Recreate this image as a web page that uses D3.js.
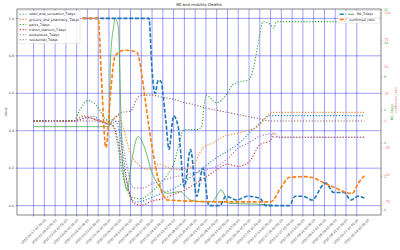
<!DOCTYPE html>
<meta charset="utf-8">
<script src="https://d3js.org/d3.v7.min.js"></script>
<style>
    body{ margin:0; background:#fff; }
    text{ font-family:"DejaVu Sans"; }
</style>
<body>
<script>
var title = "R0 and mobility Deaths";

// mobility, % change from baseline (right axis, red)
var retail = [["2020-02-17",0],["2020-03-14",0],["2020-03-20",4],["2020-03-27",4],["2020-04-02",-1],["2020-04-06",-3],["2020-04-09",1],["2020-04-12",-5],["2020-04-15",-30],["2020-04-19",-65],["2020-04-23",-75],["2020-04-28",-74],["2020-05-05",-70],["2020-05-12",-66],["2020-05-19",-62],["2020-05-26",-55],["2020-06-02",-48],["2020-06-09",-40],["2020-06-16",-33],["2020-06-23",-27],["2020-06-30",-20],["2020-07-07",-10],["2020-07-13",-2],["2020-07-20",5],["2020-09-19",5]];
var grocery = [["2020-02-17",0],["2020-03-14",0],["2020-03-20",5],["2020-03-27",2],["2020-04-06",-2],["2020-04-12",5],["2020-04-15",-5],["2020-04-20",-30],["2020-04-25",-40],["2020-05-02",-45],["2020-05-09",-40],["2020-05-16",-44],["2020-05-23",-45],["2020-05-30",-42],["2020-06-06",-25],["2020-06-13",-20],["2020-06-20",-14],["2020-06-27",-12],["2020-07-04",-9],["2020-07-11",-6],["2020-07-18",5],["2020-07-21",8],["2020-09-19",8]];
var parks = [["2020-02-17",0],["2020-03-14",0],["2020-03-18",10],["2020-03-23",19],["2020-03-27",17],["2020-03-31",10],["2020-04-03",3],["2020-04-06",0],["2020-04-10",-10],["2020-04-15",-50],["2020-04-20",-70],["2020-04-27",-72],["2020-05-04",-65],["2020-05-11",-55],["2020-05-18",-40],["2020-05-25",-8],["2020-06-01",-8],["2020-06-05",-6],["2020-06-08",24],["2020-06-15",17],["2020-06-22",26],["2020-06-25",33],["2020-06-29",36],["2020-07-06",38],["2020-07-09",50],["2020-07-13",80],["2020-07-15",92],["2020-07-20",89],["2020-07-22",86],["2020-07-24",92],["2020-07-27",92],["2020-09-19",92]];
var transit = [["2020-02-17",0],["2020-03-14",0],["2020-03-23",3],["2020-04-02",-1],["2020-04-09",-5],["2020-04-15",-40],["2020-04-22",-76],["2020-04-27",-78],["2020-05-04",-74],["2020-05-11",-72],["2020-05-18",-68],["2020-05-25",-64],["2020-06-01",-58],["2020-06-08",-52],["2020-06-15",-45],["2020-06-22",-40],["2020-06-29",-42],["2020-07-06",-38],["2020-07-13",-22],["2020-07-20",-18],["2020-07-22",-11],["2020-07-25",-15],["2020-09-19",-15]];
var workplaces = [["2020-02-17",0],["2020-03-14",0],["2020-03-23",3],["2020-04-06",-3],["2020-04-12",0],["2020-04-16",-30],["2020-04-22",-62],["2020-04-28",-62],["2020-05-04",-58],["2020-05-11",-55],["2020-05-18",-52],["2020-05-25",-50],["2020-06-01",-48],["2020-06-08",-45],["2020-06-15",-42],["2020-06-22",-35],["2020-06-29",-25],["2020-07-06",-20],["2020-07-13",-14],["2020-07-20",-12],["2020-07-22",-15],["2020-09-19",-15]];
var residential = [["2020-02-17",0],["2020-04-06",0],["2020-04-10",3],["2020-04-14",8],["2020-04-20",9],["2020-04-24",20],["2020-04-28",24],["2020-05-04",24],["2020-05-11",22],["2020-05-18",20],["2020-05-25",17],["2020-06-01",15],["2020-06-08",12],["2020-06-15",10],["2020-06-22",8],["2020-06-29",6],["2020-07-06",4],["2020-07-13",2],["2020-07-20",0],["2020-09-19",0]];

// normalised series (left axis)
var r0Norm = [["2020-03-20",1],["2020-05-02",1],["2020-05-04",0.72],["2020-05-06",0.6],["2020-05-08",0.67],["2020-05-10",0.66],["2020-05-11",0.6],["2020-05-13",0.45],["2020-05-15",0.3],["2020-05-18",0.48],["2020-05-21",0.42],["2020-05-25",0.1],["2020-05-29",0.3],["2020-06-02",0.05],["2020-06-06",0.2],["2020-06-10",0.0],["2020-06-17",0.0],["2020-06-21",0.05],["2020-06-28",0.03],["2020-07-05",0.05],["2020-07-13",0.04],["2020-07-17",0.0],["2020-08-01",0.0],["2020-08-05",0.05],["2020-08-10",0.05],["2020-08-16",0.03],["2020-08-23",0.11],["2020-08-25",0.12],["2020-08-30",0.07],["2020-09-06",0.07],["2020-09-10",0.03],["2020-09-15",0.05],["2020-09-19",0.04]];
var confirmedNorm = [["2020-03-20",1],["2020-03-30",1],["2020-04-01",0.7],["2020-04-04",0.31],["2020-04-07",0.6],["2020-04-10",0.8],["2020-04-16",0.83],["2020-04-24",0.82],["2020-04-27",0.72],["2020-04-29",0.6],["2020-05-02",0.42],["2020-05-06",0.22],["2020-05-10",0.08],["2020-05-14",0.03],["2020-06-20",0.02],["2020-07-20",0.02],["2020-07-27",0.1],["2020-08-01",0.15],["2020-08-10",0.155],["2020-08-16",0.15],["2020-08-24",0.12],["2020-08-31",0.095],["2020-09-07",0.07],["2020-09-11",0.065],["2020-09-15",0.12],["2020-09-19",0.16]];

// R0 (right axis, green)
var r0 = [["2020-02-17",5],["2020-04-06",5],["2020-04-07",9],["2020-04-09",11],["2020-04-10",11.5],["2020-04-12",11],["2020-04-14",5],["2020-04-15",2.5],["2020-04-18",1.2],["2020-04-20",2.5],["2020-04-25",4.4],["2020-04-30",3.5],["2020-05-03",2.5],["2020-05-08",1.5],["2020-05-14",1.0],["2020-05-22",1.1],["2020-05-29",0.6],["2020-06-05",0.5],["2020-06-12",0.5],["2020-06-18",1.2],["2020-06-23",0.4],["2020-07-10",0.35],["2020-07-21",0.3]];

var leftTicks = [0, 0.2, 0.4, 0.6, 0.8, 1.0];
var redTicks = [-75, -50, -25, 0, 25, 50, 75, 100];
var greenTicks = [0, 2, 4, 6, 8, 10, 12];

var mobility = [
  {name:"retail_and_recreation_7days", color:"#1f77b4", data:retail},
  {name:"grocery_and_pharmacy_7days", color:"#ff7f0e", data:grocery},
  {name:"parks_7days", color:"#2ca02c", data:parks},
  {name:"transit_stations_7days", color:"#d62728", data:transit},
  {name:"workplaces_7days", color:"#9467bd", data:workplaces},
  {name:"residential_7days", color:"#8c564b", data:residential}
];

var margin = {top: 9, right: 19, bottom: 35, left: 17},
    width = 400 - margin.left - margin.right,
    height = 250 - margin.top - margin.bottom;

var parse = d3.timeParse("%Y-%m-%d");
var fmt = d3.timeFormat("%Y-%m-%d %H:%M:%S");

var svg = d3.select("body").append("svg")
    .attr("width", 400)
    .attr("height", 250)
    .append("g")
    .attr("transform", "translate(" + margin.left + "," + margin.top + ")");

var t0 = parse("2020-02-17"), t1 = parse("2020-09-19");
var pad = (t1 - t0) * 0.05;
var x = d3.scaleTime().domain([new Date(+t0 - pad), new Date(+t1 + pad)]).range([0, width]);
var y = d3.scaleLinear().domain([-0.05, 1.05]).range([height, 0]);
var yRed = d3.scaleLinear().domain([-87, 103.7]).range([height, 0]);
var yGreen = d3.scaleLinear().domain([-0.3, 12.06]).range([height, 0]);

var weeks = d3.timeMonday.range(t0, parse("2020-09-15"));

// grid
svg.selectAll(".vgrid").data(weeks).enter().append("line")
    .attr("x1", function(d) { return x(d); }).attr("x2", function(d) { return x(d); })
    .attr("y1", 0).attr("y2", height)
    .style("stroke", "blue").style("stroke-opacity", 0.55).style("stroke-width", 0.7);
svg.selectAll(".hgrid").data(leftTicks).enter().append("line")
    .attr("x1", 0).attr("x2", width)
    .attr("y1", function(d) { return y(d); }).attr("y2", function(d) { return y(d); })
    .style("stroke", "blue").style("stroke-opacity", 0.55).style("stroke-width", 0.7);

function line(scale) {
  return d3.line()
    .x(function(d) { return x(parse(d[0])); })
    .y(function(d) { return scale(d[1]); })
    .curve(d3.curveMonotoneX);
}

// mobility lines
mobility.forEach(function(s) {
  svg.append("path").datum(s.data)
    .attr("d", line(yRed))
    .style("fill", "none").style("stroke", s.color)
    .style("stroke-width", 1.1).style("stroke-dasharray", "1.1,1.8");
});

svg.append("path").datum(r0)
    .attr("d", line(yGreen))
    .style("fill", "none").style("stroke", "#2ca02c").style("stroke-width", 0.7);

svg.append("path").datum(r0Norm)
    .attr("d", line(y))
    .style("fill", "none").style("stroke", "#1f77b4")
    .style("stroke-width", 1.6).style("stroke-dasharray", "4,1.8");
svg.append("path").datum(confirmedNorm)
    .attr("d", line(y))
    .style("fill", "none").style("stroke", "#ff7f0e")
    .style("stroke-width", 1.6).style("stroke-dasharray", "4,1.8");

// frame
svg.append("rect").attr("width", width).attr("height", height)
    .style("fill", "none").style("stroke", "#333").style("stroke-width", 0.6);

// left axis
svg.selectAll(".lt").data(leftTicks).enter().append("text")
    .attr("x", -3).attr("y", function(d) { return y(d); })
    .attr("dy", "0.35em").attr("text-anchor", "end")
    .attr("font-size", "3.3px").style("fill", "#333")
    .text(function(d) { return d.toFixed(1); });
svg.selectAll(".ltk").data(leftTicks).enter().append("line")
    .attr("x1", -1.5).attr("x2", 0)
    .attr("y1", function(d) { return y(d); }).attr("y2", function(d) { return y(d); })
    .style("stroke", "#333").style("stroke-width", 0.4);
svg.append("text")
    .attr("transform", "translate(-10," + (height / 2) + ") rotate(-90)")
    .attr("text-anchor", "middle").attr("font-size", "3.3px").style("fill", "#333")
    .text("Value");

// x axis
svg.selectAll(".xl").data(weeks).enter().append("text")
    .attr("transform", function(d) { return "translate(" + x(d) + "," + (height + 16.5) + ") rotate(-45)"; })
    .attr("text-anchor", "middle").attr("dy", "0.35em")
    .attr("font-size", "3.2px").style("fill", "#333")
    .text(function(d) { return fmt(d); });
svg.selectAll(".xtk").data(weeks).enter().append("line")
    .attr("x1", function(d) { return x(d); }).attr("x2", function(d) { return x(d); })
    .attr("y1", height).attr("y2", height + 1.5)
    .style("stroke", "#333").style("stroke-width", 0.4);

// right axes
svg.selectAll(".rt").data(redTicks).enter().append("text")
    .attr("x", width + 3.5).attr("y", function(d) { return yRed(d); })
    .attr("dy", "0.35em").attr("font-size", "3.3px").style("fill", "#ee6666")
    .text(function(d) { return d; });
svg.selectAll(".rtk").data(redTicks).enter().append("line")
    .attr("x1", width).attr("x2", width + 1.5)
    .attr("y1", function(d) { return yRed(d); }).attr("y2", function(d) { return yRed(d); })
    .style("stroke", "#ee6666").style("stroke-width", 0.4);
svg.selectAll(".gt").data(greenTicks).enter().append("text")
    .attr("x", width + 3).attr("y", function(d) { return yGreen(d); })
    .attr("dy", "0.35em").attr("font-size", "3.3px").style("fill", "#2ca02c")
    .text(function(d) { return d; });
svg.selectAll(".gtk").data(greenTicks).enter().append("line")
    .attr("x1", width).attr("x2", width + 1.5)
    .attr("y1", function(d) { return yGreen(d); }).attr("y2", function(d) { return yGreen(d); })
    .style("stroke", "#2ca02c").style("stroke-width", 0.4);
svg.append("text")
    .attr("transform", "translate(" + (width + 12) + "," + (height / 2) + ") rotate(-90)")
    .attr("text-anchor", "middle").attr("font-size", "3.3px").style("fill", "#2ca02c")
    .text("R0_7days");
svg.append("text")
    .attr("transform", "translate(" + (width + 15.5) + "," + (height / 2 - 12) + ") rotate(-90)")
    .attr("text-anchor", "middle").attr("font-size", "3.3px").style("fill", "#ee6666")
    .text("confirmed_ratio");

// title
svg.append("text").attr("x", width / 2).attr("y", -3)
    .attr("text-anchor", "middle").attr("font-size", "3.9px").style("fill", "#222")
    .text(title);

// legends
function legend(items, x0, y0, w) {
  var g = svg.append("g").attr("transform", "translate(" + x0 + "," + y0 + ")");
  g.append("rect").attr("width", w).attr("height", items.length * 5.1 + 2.5)
    .attr("rx", 0.8)
    .style("fill", "white").style("fill-opacity", 0.85)
    .style("stroke", "#ccc").style("stroke-width", 0.4);
  items.forEach(function(it, i) {
    var yy = 3.8 + i * 5.1;
    g.append("line").attr("x1", 1.7).attr("x2", 8.3).attr("y1", yy).attr("y2", yy)
      .style("stroke", it.color).style("stroke-width", it.width)
      .style("stroke-dasharray", it.dash);
    g.append("text").attr("x", 11).attr("y", yy).attr("dy", "0.35em")
      .attr("font-size", "3.3px").style("fill", "#222").text(it.name);
  });
}
legend(mobility.map(function(s) { return {name:s.name, color:s.color, width:1.1, dash:"1.1,1.8"}; }), 1, 1.5, 62);
legend([{name:"R0_7days", color:"#1f77b4", width:1.6, dash:"4,1.8"},
        {name:"confirmed_ratio", color:"#ff7f0e", width:1.6, dash:"4,1.8"}], width - 43, 1.5, 42);
legend([{name:"R0_7days", color:"#2ca02c", width:0.7, dash:null}], width - 35, 1.5, 34);
</script>
</body>
</html>
